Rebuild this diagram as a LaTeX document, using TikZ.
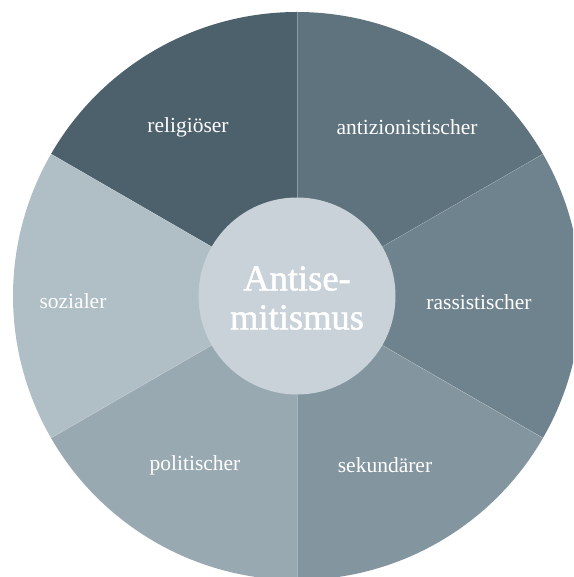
\documentclass[tikz,border=0pt]{standalone}
\usepackage{fontspec}
\setmainfont{Liberation Serif}
\newfontfamily\kernschrift{Liberation Serif}[FakeBold=1.3]
\definecolor{religioes}{HTML}{4D616D}
\definecolor{antizion}{HTML}{5E737E}
\definecolor{rassist}{HTML}{6F838E}
\definecolor{sekundaer}{HTML}{8396A0}
\definecolor{politisch}{HTML}{99A9B2}
\definecolor{sozial}{HTML}{B0BEC5}
\definecolor{mitte}{HTML}{C8D2D8}
\tikzset{
	sectorlabel/.style={text=white,font=\fontsize{21.5}{24}\selectfont},
	corelabel/.style={text=white,align=center,font=\kernschrift\fontsize{36.5}{39}\selectfont}
}
\begin{document}
\begin{tikzpicture}[x=1pt,y=1pt]
	\useasboundingbox (-297,-281) rectangle (276,296);
	\clip (-297,-281) rectangle (276,296);
	\coordinate (m) at (0,0);
	% six sectors, counter-clockwise from the right
	\foreach \start/\farbe in {-30/rassist,30/antizion,90/religioes,150/sozial,210/politisch,270/sekundaer}{
		\fill[\farbe] (m) -- (\start:284) arc[start angle=\start,delta angle=60,radius=284] -- cycle;
	}
	\foreach \winkel in {30,90,150,210,270,330}{
		\draw[white,opacity=0.3,line width=0.4pt] (m) -- (\winkel:284);
	}
	\fill[mitte] (m) circle[radius=98.5];
	\node[sectorlabel] (religioeser) at (-109,169) {religiöser};
	\node[sectorlabel] (antizionistischer) at (110,169) {antizionistischer};
	\node[sectorlabel] (rassistischer) at (182,-6) {rassistischer};
	\node[sectorlabel] (sekundaerer) at (88,-169) {sekundärer};
	\node[sectorlabel] (politischer) at (-102,-169) {politischer};
	\node[sectorlabel] (sozialer) at (-224,-5) {sozialer};
	\node[corelabel] (kern) at (0,-2) {Antise-\\mitismus};
\end{tikzpicture}
\end{document}
